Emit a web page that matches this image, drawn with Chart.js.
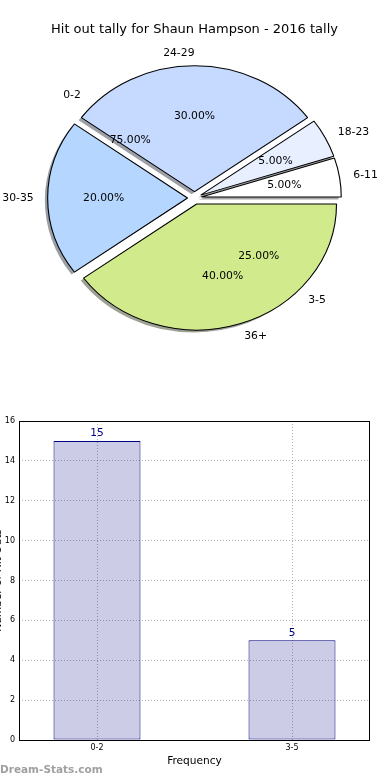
<!DOCTYPE html>
<html>
<head>
<meta charset="utf-8">
<script src="https://cdn.jsdelivr.net/npm/chart.js@4.4.1/dist/chart.umd.min.js"></script>
<style>
  body { margin: 0; background: #fff; }
  canvas { position: absolute; left: 0; }
  #pieChart { top: 0; }
  #barChart { top: 400px; }
</style>
</head>
<body>
<canvas id="pieChart" width="390" height="400"></canvas>
<canvas id="barChart" width="390" height="380"></canvas>
<script>
// =================== DATA ===================
const TITLE = "Hit out tally for Shaun Hampson - 2016 tally";

// age groups of the pie, counter-clockwise from 3 o'clock
const pieLabels = ["6-11", "18-23", "24-29", "30-35", "36+"];
const pieValues = [1, 1, 6, 4, 8];
const pieColors = ["#ffffff", "#e8f0ff", "#c6d9ff", "#b5d6ff", "#d0ea8c"];

// frequency groups (also printed on the pie, under the wedges)
const barLabels = ["0-2", "3-5"];
const barValues = [15, 5];

const yTicksMax = 16;
const yTicksStep = 2;

// =================== STYLE ===================
const FONT = "DejaVu Sans";
const PIE_RADIUS = 126;
const STRETCH_X = 1.11;     // the pie is drawn as an ellipse, like the original
const EXPLODE = 0.05;       // fraction of radius
const SHADOW = 0.02;

Chart.defaults.font.family = FONT;
Chart.defaults.color = "#000";

function shadowOf(hex) {
  const n = parseInt(hex.slice(1), 16);
  const r = Math.round(((n >> 16) & 255) * 0.3);
  const g = Math.round(((n >> 8) & 255) * 0.3);
  const b = Math.round((n & 255) * 0.3);
  return `rgba(${r},${g},${b},0.5)`;
}

// =================== PIE ===================
const piePlugin = {
  id: "ellipsePie",
  beforeDatasetDraw(chart, args) {
    const ctx = chart.ctx;
    const arcs = chart.getDatasetMeta(args.index).data;
    const colors = chart.data.datasets[args.index].backgroundColor;
    const cx = arcs[0].x, cy = arcs[0].y;
    const ex = EXPLODE * PIE_RADIUS;
    const sh = SHADOW * PIE_RADIUS;
    ctx.save();
    ctx.translate(cx, cy);
    ctx.scale(STRETCH_X, 1);
    ctx.translate(-cx, -cy);
    // shadows first, behind every wedge
    arcs.forEach((arc, i) => {
      const mid = (arc.startAngle + arc.endAngle) / 2;
      const x = arc.x + Math.cos(mid) * ex - sh;
      const y = arc.y + Math.sin(mid) * ex + sh;
      ctx.beginPath();
      ctx.moveTo(x, y);
      ctx.arc(x, y, arc.outerRadius, arc.startAngle, arc.endAngle);
      ctx.closePath();
      ctx.fillStyle = shadowOf(colors[i]);
      ctx.fill();
    });
    // exploded wedges
    arcs.forEach((arc) => {
      const mid = (arc.startAngle + arc.endAngle) / 2;
      ctx.save();
      ctx.translate(Math.cos(mid) * ex, Math.sin(mid) * ex);
      arc.draw(ctx);
      ctx.restore();
    });
    ctx.restore();
    return false;
  },
  afterDraw(chart) {
    const ctx = chart.ctx;
    const arcs = chart.getDatasetMeta(0).data;
    const labels = chart.data.labels;
    const values = chart.data.datasets[0].data;
    const cx = arcs[0].x, cy = arcs[0].y;
    const R = PIE_RADIUS;
    const ex = EXPLODE * R;

    function put(mid, frac, text, side) {
      const d = ex + frac * R;
      const x = cx + STRETCH_X * Math.cos(mid) * d;
      const y = cy + Math.sin(mid) * d;
      ctx.textAlign = side ? (Math.cos(mid) > 1e-9 ? "left" : "right") : "center";
      ctx.fillText(text, x, y);
    }

    ctx.save();
    ctx.font = `10.8px "${FONT}"`;
    ctx.fillStyle = "#000";
    ctx.textBaseline = "middle";

    const total = values.reduce((a, b) => a + b, 0);
    arcs.forEach((arc, i) => {
      const mid = (arc.startAngle + arc.endAngle) / 2;
      put(mid, 1.1, labels[i], true);
      put(mid, 0.6, (values[i] / total * 100).toFixed(2) + "%", false);
    });

    // second tally printed on the same pie
    const total2 = barValues.reduce((a, b) => a + b, 0);
    let cum = 0;
    barValues.forEach((v, i) => {
      const mid = -2 * Math.PI * (cum + v / 2) / total2;
      cum += v;
      put(mid, 1.1, barLabels[i], true);
      put(mid, 0.6, (v / total2 * 100).toFixed(2) + "%", false);
    });
    ctx.restore();
  }
};

new Chart(document.getElementById("pieChart"), {
  type: "pie",
  data: {
    labels: pieLabels.slice().reverse(),
    datasets: [{
      data: pieValues.slice().reverse(),
      backgroundColor: pieColors.slice().reverse(),
      borderColor: "#000",
      borderWidth: 1,
      radius: PIE_RADIUS
    }]
  },
  options: {
    responsive: false,
    animation: false,
    rotation: 90,
    events: [],
    layout: { padding: { left: 0, right: 1, top: 0, bottom: 43.6 } },
    plugins: {
      legend: { display: false },
      tooltip: { enabled: false },
      title: {
        display: true,
        text: TITLE,
        color: "#000",
        font: { family: FONT, size: 13, weight: "normal", lineHeight: 1.2 },
        padding: { top: 22, bottom: 2 }
      }
    }
  },
  plugins: [piePlugin]
});

// =================== BAR ===================
const barPlugin = {
  id: "barExtras",
  afterDatasetsDraw(chart) {
    const ctx = chart.ctx;
    const bars = chart.getDatasetMeta(0).data;
    ctx.save();
    ctx.font = `10.6px "${FONT}"`;
    ctx.fillStyle = "#000080";
    ctx.textAlign = "center";
    ctx.textBaseline = "alphabetic";
    bars.forEach((bar, i) => {
      ctx.fillText(String(barValues[i]), bar.x, bar.y - 4.5);
    });
    ctx.restore();
  },
  afterDraw(chart) {
    const ctx = chart.ctx;
    const a = chart.chartArea;
    ctx.save();
    // frame
    ctx.strokeStyle = "#000";
    ctx.lineWidth = 1;
    ctx.strokeRect(Math.round(a.left) + 0.5, Math.round(a.top) + 0.5,
      Math.round(a.right - a.left) - 1, Math.round(a.bottom - a.top));
    // y title, clipped by the page edge as in the original
    ctx.fillStyle = "#000";
    ctx.font = `10.6px "${FONT}"`;
    ctx.translate(-2, (a.top + a.bottom) / 2);
    ctx.rotate(-Math.PI / 2);
    ctx.textAlign = "center";
    ctx.textBaseline = "middle";
    ctx.fillText("Number of Hit Outs", 0, 0);
    ctx.restore();
    // watermark
    ctx.save();
    ctx.font = `bold 10.5px "${FONT}"`;
    ctx.fillStyle = "#a0a0a0";
    ctx.textAlign = "left";
    ctx.textBaseline = "middle";
    ctx.fillText("Dream-Stats.com", 0, 370);
    ctx.restore();
  }
};

const gridStyle = { color: "rgba(0,0,0,0.3)", lineWidth: 1, z: 1, drawTicks: false };

new Chart(document.getElementById("barChart"), {
  type: "bar",
  data: {
    datasets: [{
      data: barLabels.map((c, i) => ({ x: i, y: barValues[i] })),
      backgroundColor: "#ccccE6",
      borderColor: "#000080",
      borderWidth: 1,
      borderSkipped: false,
      barPercentage: 0.446,
      categoryPercentage: 1
    }]
  },
  options: {
    responsive: false,
    animation: false,
    events: [],
    layout: { padding: { left: 0, right: 20, top: 21, bottom: 0 } },
    plugins: { legend: { display: false }, tooltip: { enabled: false } },
    scales: {
      x: {
        type: "linear",
        offset: false,
        min: -0.4,
        max: 1.4,
        afterBuildTicks: (s) => { s.ticks = barLabels.map((c, i) => ({ value: i })); },
        afterFit: (s) => { s.height = 40; },
        ticks: {
          callback: (v) => barLabels[v],
          font: { size: 8 },
          color: "#000",
          padding: 3,
          maxRotation: 0
        },
        grid: { ...gridStyle, offset: false },
        border: { display: false, dash: [1, 2] },
        title: {
          display: true,
          text: "Frequency",
          font: { size: 10.6 },
          color: "#000",
          padding: { top: 2, bottom: 12 }
        }
      },
      y: {
        min: 0,
        max: yTicksMax,
        afterFit: (s) => { s.width = 19; },
        ticks: { stepSize: yTicksStep, font: { size: 8 }, color: "#000", padding: 4 },
        grid: gridStyle,
        border: { display: false, dash: [1, 2] }
      }
    }
  },
  plugins: [barPlugin]
});
</script>
</body>
</html>
